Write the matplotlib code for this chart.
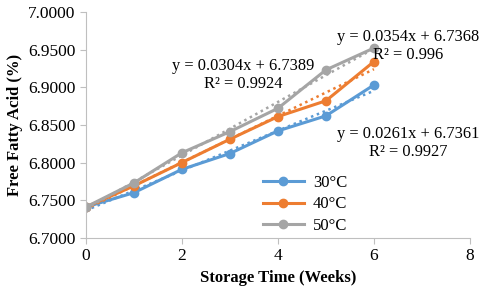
import numpy as np
import matplotlib.pyplot as plt

plt.rcParams['font.family'] = ['Liberation Serif', 'DejaVu Serif']

weeks = [0, 1, 2, 3, 4, 5, 6]
ffa_30 = [6.741, 6.760, 6.791, 6.812, 6.842, 6.862, 6.903]
ffa_40 = [6.741, 6.769, 6.800, 6.831, 6.861, 6.882, 6.934]
ffa_50 = [6.741, 6.773, 6.813, 6.841, 6.872, 6.923, 6.952]
labels = ['30°C', '40°C', '50°C']
colors = ['#5B9BD5', '#ED7D31', '#A5A5A5']

fit_text = [
    ('y = 0.0261x + 6.7361\nR² = 0.9927', 6.71, 6.826),
    ('y = 0.0304x + 6.7389\nR² = 0.9924', 3.27, 6.916),
    ('y = 0.0354x + 6.7368\nR² = 0.996', 6.71, 6.955),
]

fig = plt.figure(figsize=(4.8, 2.97), dpi=100)
ax = fig.add_axes([0.179, 0.199, 0.800, 0.761])

x = np.array(weeks)
for series, lab, col in zip([ffa_30, ffa_40, ffa_50], labels, colors):
    ax.plot(weeks, series, color=col, lw=2.2, marker='o', ms=6, label=lab)
    k, b = np.polyfit(x, series, 1)
    ax.plot(x, k * x + b, color=col, lw=1.8, ls=(0, (1, 1.5)))

for txt, tx, ty in fit_text:
    ax.text(tx, ty, txt, fontsize=11.8, ha='center', va='center', linespacing=1.15)

ax.set_xlim(0, 8)
ax.set_ylim(6.70, 7.00)
ax.set_xticks([0, 2, 4, 6, 8])
ax.set_yticks(np.arange(6.70, 7.0001, 0.05))
ax.yaxis.set_major_formatter(plt.FormatStrFormatter('%.4f'))
ax.tick_params(labelsize=12.5, color='#BFBFBF', length=4)
for s in ['top', 'right']:
    ax.spines[s].set_visible(False)
for s in ['left', 'bottom']:
    ax.spines[s].set_color('#BFBFBF')

ax.set_xlabel('Storage Time (Weeks)', fontsize=12, fontweight='bold')
ax.set_ylabel('Free Fatty Acid (%)', fontsize=12, fontweight='bold')

ax.legend(loc='lower left', bbox_to_anchor=(0.422, -0.05), frameon=False,
          fontsize=12, handlelength=2.45, handletextpad=0.55, labelspacing=0.35)

fig.savefig('out.png', dpi=100)
